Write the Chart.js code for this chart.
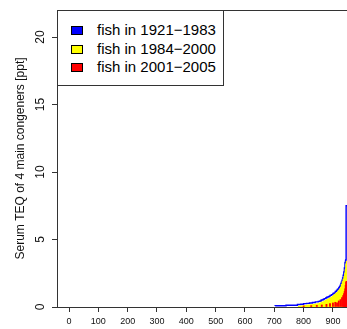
<!DOCTYPE html>
<html>
<head>
<meta charset="utf-8">
<script src="https://cdn.jsdelivr.net/npm/chart.js@4"></script>
<style>
  html, body { margin: 0; padding: 0; background: #fff; }
  #wrap { position: relative; width: 347px; height: 329px; overflow: hidden; }
  canvas { position: absolute; left: 0; top: 0; }
  #legend { position: absolute; left: 57px; top: 10px; width: 167px; height: 76px;
    border: 1px solid #333; background: #fff; font-family: "Liberation Sans", Arial, sans-serif;
    font-size: 15px; color: #000; box-sizing: border-box; }
  .item { position: absolute; left: 0; height: 18px; line-height: 18px; white-space: nowrap; }
  .sw { position: absolute; left: 13px; top: 5px; width: 12px; height: 9px; border: 1px solid #000; box-sizing: border-box; }
  .lbl { position: absolute; left: 39px; top: 0; }
</style>
</head>
<body>
<div id="wrap">
  <canvas id="c" width="347" height="329"></canvas>
  <div id="legend"></div>
</div>
<script>
// ---- data ----
const legendLabels = ["fish in 1921\u22121983", "fish in 1984\u22122000", "fish in 2001\u22122005"];
const legendColors = ["#0000FF", "#FFFF00", "#FF0000"];

const xTicks = [0, 100, 200, 300, 400, 500, 600, 700, 800, 900];
const yTicks = [0, 5, 10, 15, 20];

// blue (1921-1983) envelope, sorted fish index vs TEQ
const blueX = [703, 740, 779, 790, 800, 810, 820, 830, 840, 850, 856, 860, 866, 870, 876, 880, 886, 890, 895, 900, 904, 908, 912, 915, 918, 920, 923, 925, 927, 929, 931, 933, 935, 937, 939, 941, 943, 944, 945, 946, 947.9];
const blueY = [0.08, 0.09, 0.13, 0.18, 0.2, 0.25, 0.27, 0.3, 0.33, 0.38, 0.42, 0.45, 0.52, 0.56, 0.62, 0.68, 0.74, 0.78, 0.86, 0.92, 1.0, 1.05, 1.15, 1.22, 1.3, 1.36, 1.45, 1.52, 1.62, 1.75, 1.85, 1.98, 2.15, 2.35, 2.6, 2.9, 3.3, 3.45, 3.5, 7.5, 7.5];

// yellow (1984-2000)
const yellowX = [780, 790, 800, 812, 822, 830, 838, 845, 852, 858, 864, 868, 872, 876, 880, 884, 888, 892, 896, 900, 904, 908, 912, 916, 920, 924, 927, 930, 933, 936, 938, 940, 942, 944, 946, 947.9];
const yellowY = [0.06, 0.1, 0.12, 0.15, 0.18, 0.2, 0.22, 0.26, 0.28, 0.33, 0.38, 0.42, 0.47, 0.52, 0.57, 0.6, 0.66, 0.7, 0.76, 0.82, 0.9, 0.96, 1.05, 1.12, 1.25, 1.35, 1.5, 1.7, 1.9, 2.1, 2.3, 2.5, 2.8, 3.2, 3.4, 3.4];

// red (2001-2005)
const redX = [800, 826, 845, 862, 878, 890, 900, 908, 914, 920, 926, 931, 935, 938, 940, 942, 943.5, 945, 946.5];
const redY = [0.08, 0.1, 0.12, 0.15, 0.2, 0.25, 0.3, 0.35, 0.3, 0.45, 0.55, 0.7, 0.85, 1.0, 1.15, 1.35, 1.6, 1.85, 1.9];

const yTitle = "Serum TEQ of 4 main congeners [ppt]";

// ---- legend (HTML, real text) ----
const lg = document.getElementById('legend');
const legendTops = [10, 29, 47];
legendLabels.forEach((t, i) => {
  const d = document.createElement('div');
  d.className = 'item';
  d.style.top = legendTops[i] + 'px';
  d.innerHTML = '<span class="sw" style="background:' + legendColors[i] + '"></span><span class="lbl"></span>';
  d.querySelector('.lbl').textContent = t;
  lg.appendChild(d);
});

const toXY = (xs, ys) => xs.map((x, i) => ({x: x, y: ys[i]}));
const font = "'Liberation Sans', Arial, sans-serif";

const boxPlugin = {
  id: 'box',
  afterDatasetsDraw(chart) {
    const {ctx, chartArea: a} = chart;
    ctx.save();
    ctx.strokeStyle = '#333';
    ctx.lineWidth = 1;
    ctx.strokeRect(a.left + 0.5, a.top + 0.5, a.right - a.left + 5, a.bottom - a.top);
    // rotated y tick labels (R style, reading bottom to top)
    const ys = chart.scales.y;
    ctx.fillStyle = '#111';
    ctx.font = "12px " + font;
    ctx.textAlign = 'center';
    ctx.textBaseline = 'middle';
    yTicks.forEach(v => {
      ctx.save();
      ctx.translate(a.left - 16, ys.getPixelForValue(v));
      ctx.rotate(-Math.PI / 2);
      ctx.fillText(String(v), 0, 0);
      ctx.restore();
    });
    ctx.restore();
  }
};

const chart = new Chart(document.getElementById('c'), {
  type: 'line',
  data: {
    datasets: [
      { type: 'bar', label: legendLabels[2], data: toXY(redX, redY), backgroundColor: legendColors[2],
        barThickness: 1.2, grouped: false, order: 0 },
      { type: 'line', label: legendLabels[1], data: toXY(yellowX, yellowY), backgroundColor: legendColors[1],
        borderWidth: 0, borderColor: legendColors[1], fill: 'origin', stepped: 'after', pointRadius: 0, order: 1 },
      { type: 'line', label: legendLabels[0], data: toXY(blueX, blueY), borderColor: legendColors[0],
        borderWidth: 1.4, fill: false, stepped: 'after', pointRadius: 0, order: 2 }
    ]
  },
  options: {
    responsive: false,
    animation: false,
    events: [],
    layout: { padding: { top: 10, right: 0, left: 0, bottom: 0 } },
    plugins: { legend: { display: false }, tooltip: { enabled: false } },
    scales: {
      x: {
        type: 'linear', min: -41, max: 948, offset: false,
        afterBuildTicks(s) { s.ticks = xTicks.map(v => ({value: v})); },
        afterFit(s) { s.height = 22; s.paddingLeft = 0; s.paddingRight = 0; },
        grid: { drawOnChartArea: false, tickLength: 5, color: '#333', tickColor: '#333', offset: false },
        border: { display: false },
        ticks: { font: { family: font, size: 9 }, color: '#111', padding: 4, maxRotation: 0, autoSkip: false }
      },
      y: {
        type: 'linear', min: 0, max: 22,
        afterBuildTicks(s) { s.ticks = yTicks.map(v => ({value: v})); },
        afterFit(s) { s.width = 57; s.paddingTop = 0; s.paddingBottom = 0; },
        grid: { drawOnChartArea: false, tickLength: 5, color: '#333', tickColor: '#333' },
        border: { display: false },
        ticks: { display: false },
        title: { display: true, text: yTitle, font: { family: font, size: 12 }, color: '#111',
                 padding: { top: 13, bottom: 0 } }
      }
    }
  },
  plugins: [boxPlugin]
});

// make the plot region run to the right edge of the canvas, as in the reference
const gap = 347 - chart.chartArea.right;
if (gap > 0.5) {
  chart.options.layout.padding.right = -gap;
  chart.update();
}
</script>
</body>
</html>
